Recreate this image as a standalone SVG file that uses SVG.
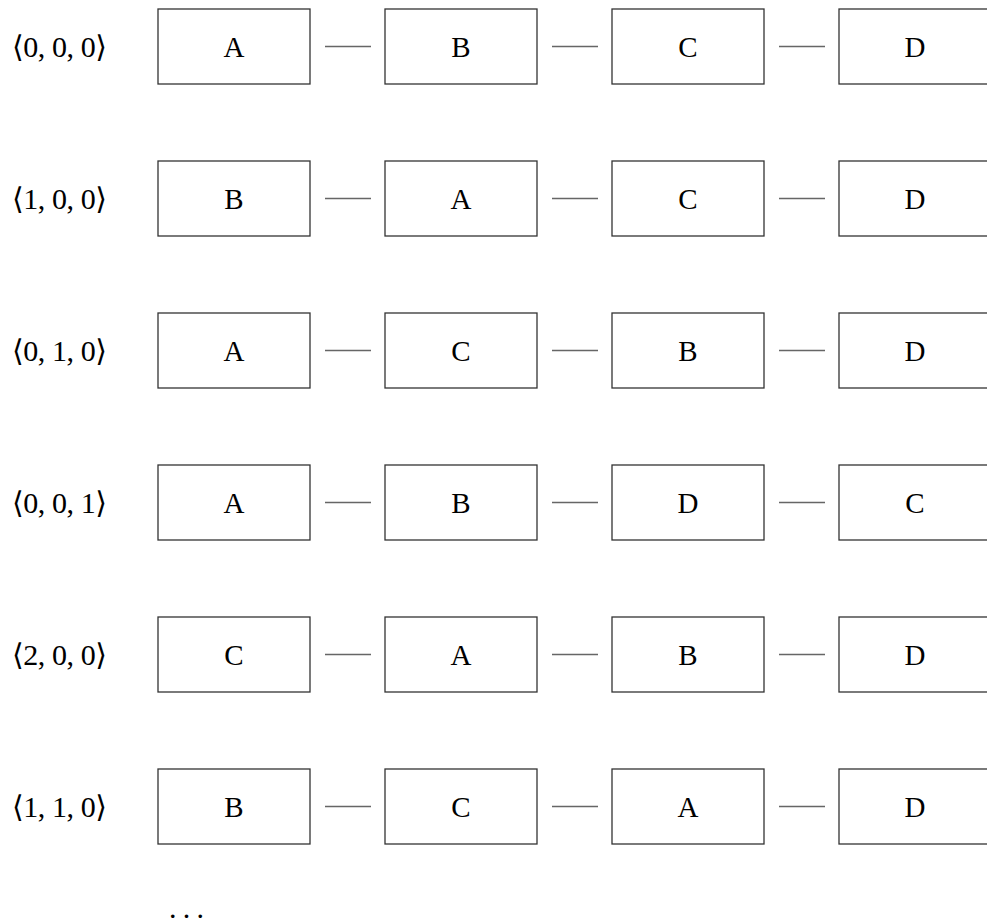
<svg xmlns="http://www.w3.org/2000/svg" width="987" height="922" viewBox="0 0 987 922">
<style>
.box{fill:#fff;stroke:#333;stroke-width:1.3}
.lt{font-family:"Liberation Serif","DejaVu Serif",serif;font-size:29px;text-anchor:middle;fill:#000}
.lab{font-family:"Liberation Serif","DejaVu Serif",serif;font-size:30px;fill:#000}
.con line{stroke:#666;stroke-width:1.5}
</style>
<defs>
<rect id="bx" class="box" width="152" height="75"/>
</defs>
<g id="labels">
<text class="lab" x="12" y="57" textLength="95" lengthAdjust="spacing">⟨0, 0, 0⟩</text>
<text class="lab" x="12" y="209" textLength="95" lengthAdjust="spacing">⟨1, 0, 0⟩</text>
<text class="lab" x="12" y="361" textLength="95" lengthAdjust="spacing">⟨0, 1, 0⟩</text>
<text class="lab" x="12" y="513" textLength="95" lengthAdjust="spacing">⟨0, 0, 1⟩</text>
<text class="lab" x="12" y="665" textLength="95" lengthAdjust="spacing">⟨2, 0, 0⟩</text>
<text class="lab" x="12" y="817" textLength="95" lengthAdjust="spacing">⟨1, 1, 0⟩</text>
</g>
<g id="row1">
<g id="r1n1"><use href="#bx" x="158" y="9"/><text class="lt" x="234" y="57">A</text></g>
<g id="r1n2"><use href="#bx" x="385" y="9"/><text class="lt" x="461" y="57">B</text></g>
<g id="r1n3"><use href="#bx" x="612" y="9"/><text class="lt" x="688" y="57">C</text></g>
<g id="r1n4"><use href="#bx" x="839" y="9"/><text class="lt" x="915" y="57">D</text></g>
</g>
<g id="row2">
<g id="r2n1"><use href="#bx" x="158" y="161"/><text class="lt" x="234" y="209">B</text></g>
<g id="r2n2"><use href="#bx" x="385" y="161"/><text class="lt" x="461" y="209">A</text></g>
<g id="r2n3"><use href="#bx" x="612" y="161"/><text class="lt" x="688" y="209">C</text></g>
<g id="r2n4"><use href="#bx" x="839" y="161"/><text class="lt" x="915" y="209">D</text></g>
</g>
<g id="row3">
<g id="r3n1"><use href="#bx" x="158" y="313"/><text class="lt" x="234" y="361">A</text></g>
<g id="r3n2"><use href="#bx" x="385" y="313"/><text class="lt" x="461" y="361">C</text></g>
<g id="r3n3"><use href="#bx" x="612" y="313"/><text class="lt" x="688" y="361">B</text></g>
<g id="r3n4"><use href="#bx" x="839" y="313"/><text class="lt" x="915" y="361">D</text></g>
</g>
<g id="row4">
<g id="r4n1"><use href="#bx" x="158" y="465"/><text class="lt" x="234" y="513">A</text></g>
<g id="r4n2"><use href="#bx" x="385" y="465"/><text class="lt" x="461" y="513">B</text></g>
<g id="r4n3"><use href="#bx" x="612" y="465"/><text class="lt" x="688" y="513">D</text></g>
<g id="r4n4"><use href="#bx" x="839" y="465"/><text class="lt" x="915" y="513">C</text></g>
</g>
<g id="row5">
<g id="r5n1"><use href="#bx" x="158" y="617"/><text class="lt" x="234" y="665">C</text></g>
<g id="r5n2"><use href="#bx" x="385" y="617"/><text class="lt" x="461" y="665">A</text></g>
<g id="r5n3"><use href="#bx" x="612" y="617"/><text class="lt" x="688" y="665">B</text></g>
<g id="r5n4"><use href="#bx" x="839" y="617"/><text class="lt" x="915" y="665">D</text></g>
</g>
<g id="row6">
<g id="r6n1"><use href="#bx" x="158" y="769"/><text class="lt" x="234" y="817">B</text></g>
<g id="r6n2"><use href="#bx" x="385" y="769"/><text class="lt" x="461" y="817">C</text></g>
<g id="r6n3"><use href="#bx" x="612" y="769"/><text class="lt" x="688" y="817">A</text></g>
<g id="r6n4"><use href="#bx" x="839" y="769"/><text class="lt" x="915" y="817">D</text></g>
</g>
<g id="connectors" class="con">
<line x1="325" y1="46.5" x2="371" y2="46.5"/><line x1="552" y1="46.5" x2="598" y2="46.5"/><line x1="779" y1="46.5" x2="825" y2="46.5"/>
<line x1="325" y1="198.5" x2="371" y2="198.5"/><line x1="552" y1="198.5" x2="598" y2="198.5"/><line x1="779" y1="198.5" x2="825" y2="198.5"/>
<line x1="325" y1="350.5" x2="371" y2="350.5"/><line x1="552" y1="350.5" x2="598" y2="350.5"/><line x1="779" y1="350.5" x2="825" y2="350.5"/>
<line x1="325" y1="502.5" x2="371" y2="502.5"/><line x1="552" y1="502.5" x2="598" y2="502.5"/><line x1="779" y1="502.5" x2="825" y2="502.5"/>
<line x1="325" y1="654.5" x2="371" y2="654.5"/><line x1="552" y1="654.5" x2="598" y2="654.5"/><line x1="779" y1="654.5" x2="825" y2="654.5"/>
<line x1="325" y1="806.5" x2="371" y2="806.5"/><line x1="552" y1="806.5" x2="598" y2="806.5"/><line x1="779" y1="806.5" x2="825" y2="806.5"/>
</g>
<text id="ellipsis" class="lab" x="169" y="918" textLength="35" lengthAdjust="spacing">...</text>
</svg>
